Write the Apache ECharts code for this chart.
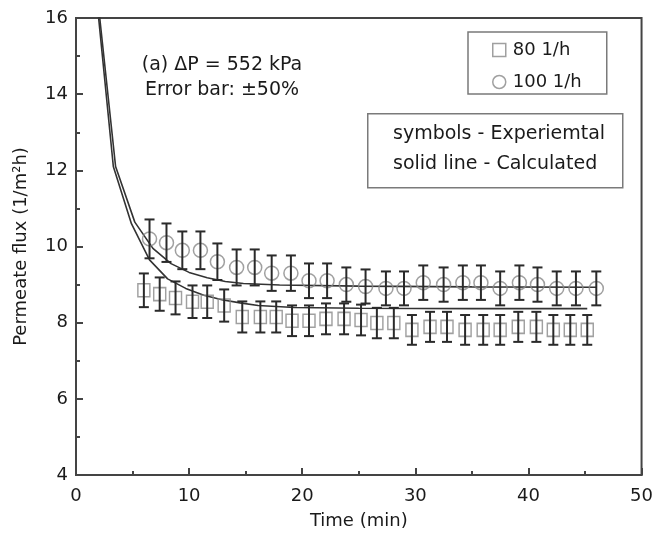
<!DOCTYPE html>
<html><head><meta charset="utf-8">
<script src="https://cdn.jsdelivr.net/npm/echarts@6/dist/echarts.min.js"></script>
<style>html,body{margin:0;padding:0;background:#fff}#c{width:656px;height:536px}</style>
</head><body><div id="c"></div>
<script>
// Experimental data, 80 1/h (squares)
const tSquares = [6.0,7.4,8.8,10.3,11.6,13.1,14.7,16.3,17.7,19.1,20.6,22.1,23.7,25.2,26.6,28.1,29.7,31.3,32.8,34.4,36.0,37.5,39.1,40.7,42.2,43.7,45.2];
const vSquares = [8.85,8.75,8.65,8.55,8.55,8.45,8.15,8.15,8.15,8.05,8.05,8.1,8.1,8.07,7.99,7.99,7.81,7.89,7.89,7.81,7.81,7.81,7.89,7.89,7.81,7.81,7.81];
// Experimental data, 100 1/h (circles)
const tCircles = [6.5,8.0,9.4,11.0,12.5,14.2,15.8,17.3,19.0,20.6,22.2,23.9,25.6,27.4,29.0,30.7,32.5,34.2,35.8,37.5,39.2,40.8,42.5,44.2,46.0];
const vCircles = [10.2,10.1,9.9,9.9,9.6,9.45,9.45,9.3,9.3,9.1,9.1,9.0,8.95,8.9,8.9,9.05,9.0,9.05,9.05,8.9,9.05,9.0,8.9,8.9,8.9];
// Calculated curves
const tCalc80 = [1.6,2.0,3.3,4.9,6.5,8.1,9.7,11.3,12.9,14.5,16.1,19.3,25.0,35.0,45.2];
const vCalc80 = [17.5,16.0,12.1,10.6,9.65,9.15,8.9,8.72,8.6,8.52,8.45,8.4,8.38,8.37,8.37];
const tCalc100 = [1.7,2.1,3.5,5.2,6.8,8.4,10.0,11.6,13.2,14.8,18.0,25.0,35.0,46.0];
const vCalc100 = [17.5,16.0,12.1,10.64,9.95,9.55,9.32,9.18,9.08,9.03,8.99,8.96,8.94,8.93];
// Relative half-width of the drawn error bars
const errFrac = 0.05;
// Axis settings
const xMin = 0, xMax = 50, xStep = 10;
const yMin = 4, yMax = 16, yStep = 2;
const seriesNames = ['80 1/h', '100 1/h'];

const FONT = 'DejaVu Sans';
const pairs = (a, b) => a.map((t, i) => [t, b[i]]);
const errData = (a, b) => a.map((t, i) => [t, b[i] * (1 - errFrac), b[i] * (1 + errFrac)]);

const chart = echarts.init(document.getElementById('c'), null, {renderer: 'canvas'});

function errRender(params, api) {
  const x = api.value(0), lo = api.value(1), hi = api.value(2);
  const pHi = api.coord([x, hi]), pLo = api.coord([x, lo]);
  const w = 5;
  const st = {stroke: '#2a2a2a', lineWidth: 2};
  return {type: 'group', children: [
    {type: 'line', shape: {x1: pHi[0], y1: pHi[1], x2: pLo[0], y2: pLo[1]}, style: st},
    {type: 'line', shape: {x1: pHi[0] - w, y1: pHi[1], x2: pHi[0] + w, y2: pHi[1]}, style: st},
    {type: 'line', shape: {x1: pLo[0] - w, y1: pLo[1], x2: pLo[0] + w, y2: pLo[1]}, style: st}
  ]};
}

const axisLineStyle = {color: '#444', width: 2};
const txt = {fontFamily: FONT, fontSize: 18, color: '#1a1a1a'};
const boxFont = '19px "DejaVu Sans"';

chart.setOption({
  animation: false,
  backgroundColor: '#fff',
  grid: {left: 76, top: 18, width: 568, height: 457, show: true, borderColor: '#444', borderWidth: 2},
  xAxis: {
    type: 'value', min: xMin, max: xMax, interval: xStep,
    name: 'Time (min)', nameLocation: 'middle', nameGap: 37,
    nameTextStyle: txt,
    axisLine: {show: true, lineStyle: axisLineStyle},
    axisTick: {show: true, inside: true, length: 7, lineStyle: {color: '#444', width: 2}},
    minorTick: {show: true, splitNumber: 2, length: 4, lineStyle: {color: '#444', width: 2}},
    axisLabel: {...txt, margin: 12},
    splitLine: {show: false}
  },
  yAxis: {
    type: 'value', min: yMin, max: yMax, interval: yStep,
    name: 'Permeate flux (1/m²h)', nameLocation: 'middle', nameGap: 46,
    nameTextStyle: txt,
    axisLine: {show: true, lineStyle: axisLineStyle},
    axisTick: {show: true, inside: true, length: 7, lineStyle: {color: '#444', width: 2}},
    minorTick: {show: true, splitNumber: 2, length: 4, lineStyle: {color: '#444', width: 2}},
    axisLabel: {...txt, margin: 8},
    splitLine: {show: false}
  },
  legend: {
    data: seriesNames,
    orient: 'vertical',
    left: 468, top: 32,
    padding: [9, 25, 3, 24],
    itemGap: 14,
    itemWidth: 13, itemHeight: 13,
    borderColor: '#7a7a7a', borderWidth: 1.5,
    textStyle: {...txt, padding: [0, 0, 0, 2]},
    itemStyle: {color: 'rgba(0,0,0,0)', borderColor: '#888', borderWidth: 1.5}
  },
  graphic: [
    {type: 'rect', left: 367, top: 113, shape: {width: 255, height: 74},
     style: {fill: '#fff', stroke: '#7a7a7a', lineWidth: 1.5}, z: 10},
    {type: 'text', left: 393, top: 125, z: 11,
     style: {text: 'symbols - Experiemtal', font: boxFont, fill: '#1a1a1a'}},
    {type: 'text', left: 393, top: 155, z: 11,
     style: {text: 'solid line - Calculated', font: boxFont, fill: '#1a1a1a'}},
    {type: 'text', x: 222, y: 65, z: 11,
     style: {text: '(a) ΔP = 552 kPa', font: boxFont, fill: '#1a1a1a', align: 'center', verticalAlign: 'middle'}},
    {type: 'text', x: 222, y: 90, z: 11,
     style: {text: 'Error bar: ±50%', font: boxFont, fill: '#1a1a1a', align: 'center', verticalAlign: 'middle'}}
  ],
  series: [
    {name: 'calc80', type: 'line', data: pairs(tCalc80, vCalc80), symbol: 'none', clip: true,
     lineStyle: {color: '#333', width: 1.6}, z: 2},
    {name: 'calc100', type: 'line', data: pairs(tCalc100, vCalc100), symbol: 'none', clip: true,
     lineStyle: {color: '#333', width: 1.6}, z: 2},
    {name: seriesNames[0], type: 'scatter', data: pairs(tSquares, vSquares), symbol: 'rect', symbolSize: [12, 13],
     itemStyle: {color: 'rgba(0,0,0,0)', borderColor: '#888', borderWidth: 1.5}, z: 3},
    {name: seriesNames[1], type: 'scatter', data: pairs(tCircles, vCircles), symbol: 'circle', symbolSize: 14,
     itemStyle: {color: 'rgba(0,0,0,0)', borderColor: '#888', borderWidth: 1.5}, z: 3},
    {name: 'err80', type: 'custom', renderItem: errRender, data: errData(tSquares, vSquares), encode: {x: 0, y: [1, 2]}, z: 4},
    {name: 'err100', type: 'custom', renderItem: errRender, data: errData(tCircles, vCircles), encode: {x: 0, y: [1, 2]}, z: 4}
  ]
});
</script></body></html>
